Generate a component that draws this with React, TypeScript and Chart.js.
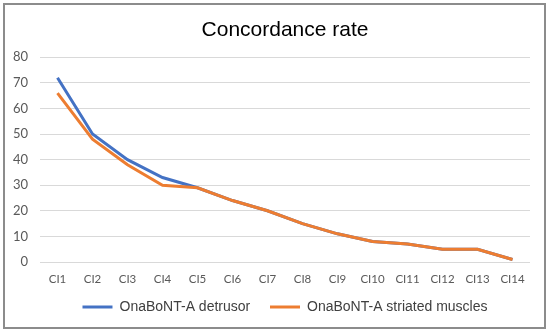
import React, { useEffect, useRef } from "react";
import { Chart, registerables } from "chart.js";

Chart.register(...registerables);

const categories = ["CI1", "CI2", "CI3", "CI4", "CI5", "CI6", "CI7", "CI8", "CI9", "CI10", "CI11", "CI12", "CI13", "CI14"];
const detrusor = [72, 50, 40, 33, 29, 24, 20, 15, 11, 8, 7, 5, 5, 1];
const striated = [66, 48, 38, 30, 29, 24, 20, 15, 11, 8, 7, 5, 5, 1];
const yTicks = [0, 10, 20, 30, 40, 50, 60, 70, 80];

const FONT = "'Liberation Sans', Arial, Helvetica, sans-serif";
const TICKFONT = "Lato, 'Liberation Sans', sans-serif";

export default function App() {
  const ref = useRef<HTMLCanvasElement | null>(null);
  useEffect(() => {
    document.body.style.margin = "0";
    const ctx = ref.current!;
    const chart = new Chart(ctx, {
      type: "line",
      data: {
        labels: categories,
        datasets: [
          {
            label: "OnaBoNT-A detrusor",
            data: detrusor,
            borderColor: "#4472C4",
            backgroundColor: "#4472C4",
            borderWidth: 3,
            pointRadius: 0,
            tension: 0,
            order: 1,
          },
          {
            label: "OnaBoNT-A striated muscles",
            data: striated,
            borderColor: "#ED7D31",
            backgroundColor: "#ED7D31",
            borderWidth: 3,
            pointRadius: 0,
            tension: 0,
            order: 0,
          },
        ],
      },
      options: {
        animation: false,
        responsive: false,
        layout: { padding: { left: 0, right: 20, top: 18, bottom: 10 } },
        plugins: {
          tooltip: { enabled: false },
          title: {
            display: true,
            text: "Concordance rate",
            fullSize: false,
            color: "#000000",
            font: { family: FONT, size: 21, weight: "normal" },
            padding: { top: 0, bottom: 14 },
          },
          legend: {
            position: "bottom",
            fullSize: false,
            labels: {
              sort: (a: any, b: any) => a.datasetIndex - b.datasetIndex,
              generateLabels: (c: any) => {
                const items = Chart.defaults.plugins.legend.labels.generateLabels(c);
                items.forEach((it: any) => {
                  if (it.datasetIndex === 0) it.text = it.text + "\u00A0\u00A0";
                });
                return items;
              },
              usePointStyle: true,
              pointStyle: "line",
              pointStyleWidth: 30,
              boxWidth: 30,
              color: "#404040",
              padding: 12,
              font: { family: FONT, size: 14 },
            },
          },
        },
        scales: {
          x: {
            offset: true,
            afterFit: (scale: any) => {
              scale.height = 26;
            },
            grid: { display: false, drawTicks: false },
            border: { display: false },
            ticks: {
              autoSkip: false,
              maxRotation: 0,
              minRotation: 0,
              color: "#595959",
              padding: 10,
              font: { family: TICKFONT, size: 11.5 },
            },
          },
          y: {
            min: 0,
            max: 80,
            afterFit: (scale: any) => {
              scale.width = 40;
            },
            afterBuildTicks: (scale: any) => {
              scale.ticks = yTicks.map((v) => ({ value: v }));
            },
            grid: { color: "#d9d9d9", lineWidth: 1, drawTicks: false },
            border: { display: false },
            ticks: {
              color: "#595959",
              padding: 12,
              font: { family: TICKFONT, size: 13 },
            },
          },
        },
      },
    });
    return () => chart.destroy();
  }, []);
  return (
    <div style={{ position: "fixed", left: 0, top: 0, width: 550, height: 334, background: "#fff" }}>
      <canvas ref={ref} width={550} height={334} style={{ position: "absolute", left: 0, top: 0, width: 550, height: 334 }} />
      <div
        style={{
          position: "absolute",
          left: 3,
          top: 3,
          width: 543,
          height: 326,
          boxSizing: "border-box",
          border: "2px solid #8c8c8c",
          pointerEvents: "none",
        }}
      />
    </div>
  );
}
